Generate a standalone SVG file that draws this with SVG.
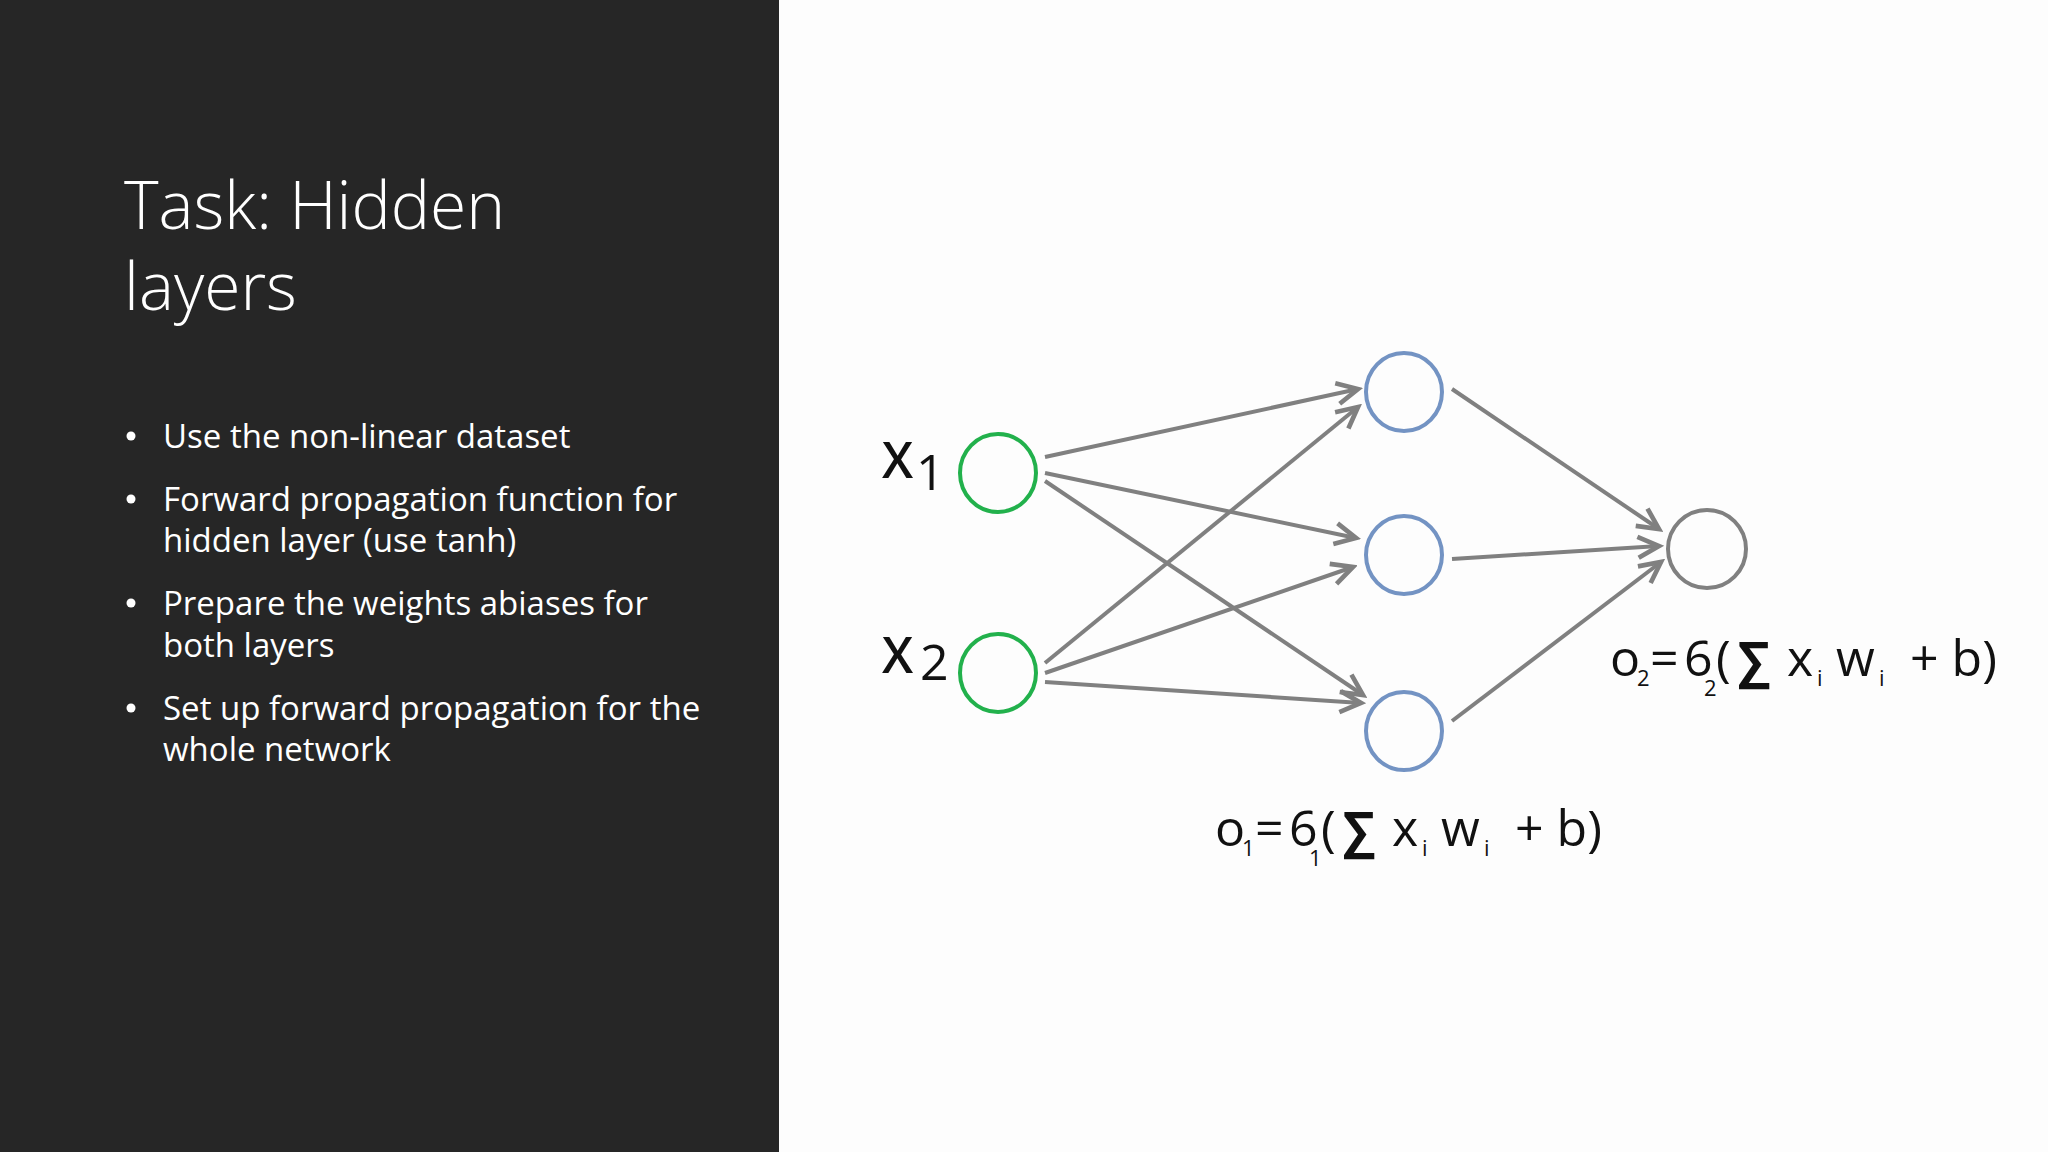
<svg xmlns="http://www.w3.org/2000/svg" width="2048" height="1152" viewBox="0 0 2048 1152">
<style>
.t{font-family:"Open Sans","Liberation Sans",sans-serif;fill:#fff}
.b{font-size:33px}
.e{stroke:#808080;stroke-width:4;fill:none}
.f{font-family:"Open Sans","Liberation Sans",sans-serif;fill:#111;font-size:50px}
.s{font-size:22px}
</style>
<defs>
<marker id="a" markerUnits="userSpaceOnUse" markerWidth="28" markerHeight="28" refX="20" refY="10" orient="auto" viewBox="0 0 24 20">
<path d="M2,1 L20,10 L2,19" fill="none" stroke="#808080" stroke-width="4"/>
</marker>
</defs>
<rect width="2048" height="1152" fill="#fdfdfd"/>
<rect width="779" height="1152" fill="#262626"/>
<g id="title" class="t" font-size="66" font-weight="300"><text x="124" y="229">Task: Hidden</text><text x="124" y="310">layers</text></g>
<g id="bullets" class="t b">
<circle cx="131" cy="436" r="4.5" fill="#fff"/><text x="163" y="448">Use the non-linear dataset</text>
<circle cx="131" cy="499" r="4.5" fill="#fff"/><text x="163" y="511">Forward propagation function for</text><text x="163" y="552">hidden layer (use tanh)</text>
<circle cx="131" cy="603" r="4.5" fill="#fff"/><text x="163" y="615">Prepare the weights abiases for</text><text x="163" y="657">both layers</text>
<circle cx="131" cy="708" r="4.5" fill="#fff"/><text x="163" y="720">Set up forward propagation for the</text><text x="163" y="761">whole network</text>
</g>
<g id="connectors" class="e" marker-end="url(#a)">
<line x1="1045" y1="457" x2="1358" y2="389"/>
<line x1="1045" y1="473" x2="1356" y2="538"/>
<line x1="1045" y1="481" x2="1363" y2="695"/>
<line x1="1045" y1="663" x2="1358" y2="407"/>
<line x1="1045" y1="673" x2="1353" y2="567"/>
<line x1="1045" y1="682" x2="1361" y2="703"/>
<line x1="1452" y1="389" x2="1659" y2="529"/>
<line x1="1452" y1="559" x2="1659" y2="546"/>
<line x1="1452" y1="721" x2="1661" y2="562"/>
</g>
<g id="x1"><ellipse cx="998" cy="473" rx="38" ry="39" fill="none" stroke="#22b14c" stroke-width="4"/><text class="f" x="882" y="478" font-size="46" font-weight="600">X</text><text class="f" x="916" y="490" font-size="26">1</text></g>
<g id="x2"><ellipse cx="998" cy="673" rx="38" ry="39" fill="none" stroke="#22b14c" stroke-width="4"/><text class="f" x="882" y="673" font-size="46" font-weight="600">X</text><text class="f" x="920" y="680" font-size="26">2</text></g>
<g id="h1"><ellipse cx="1404" cy="392" rx="38" ry="39" fill="none" stroke="#7393c3" stroke-width="4"/></g>
<g id="h2"><ellipse cx="1404" cy="555" rx="38" ry="39" fill="none" stroke="#7393c3" stroke-width="4"/></g>
<g id="h3"><ellipse cx="1404" cy="731" rx="38" ry="39" fill="none" stroke="#7393c3" stroke-width="4"/></g>
<g id="out"><ellipse cx="1707" cy="549" rx="39" ry="39" fill="none" stroke="#808080" stroke-width="4"/></g>
<g id="f2" class="f">
<text x="1610" y="676">o</text><text class="s" x="1637" y="686">2</text>
<text x="1650" y="676">=</text><text x="1684" y="676">6</text><text class="s" x="1704" y="696">2</text>
<text x="1716" y="676">(</text><text x="1738" y="678" font-weight="bold">∑</text>
<text x="1787" y="676">x</text><text class="s" x="1817" y="686">i</text>
<text x="1836" y="676">w</text><text class="s" x="1879" y="686">i</text>
<text x="1910" y="676">+ b)</text>
</g>
<g id="f1" class="f" transform="translate(-395,170)">
<text x="1610" y="676">o</text><text class="s" x="1637" y="686">1</text>
<text x="1650" y="676">=</text><text x="1684" y="676">6</text><text class="s" x="1704" y="696">1</text>
<text x="1716" y="676">(</text><text x="1738" y="678" font-weight="bold">∑</text>
<text x="1787" y="676">x</text><text class="s" x="1817" y="686">i</text>
<text x="1836" y="676">w</text><text class="s" x="1879" y="686">i</text>
<text x="1910" y="676">+ b)</text>
</g>
</svg>
